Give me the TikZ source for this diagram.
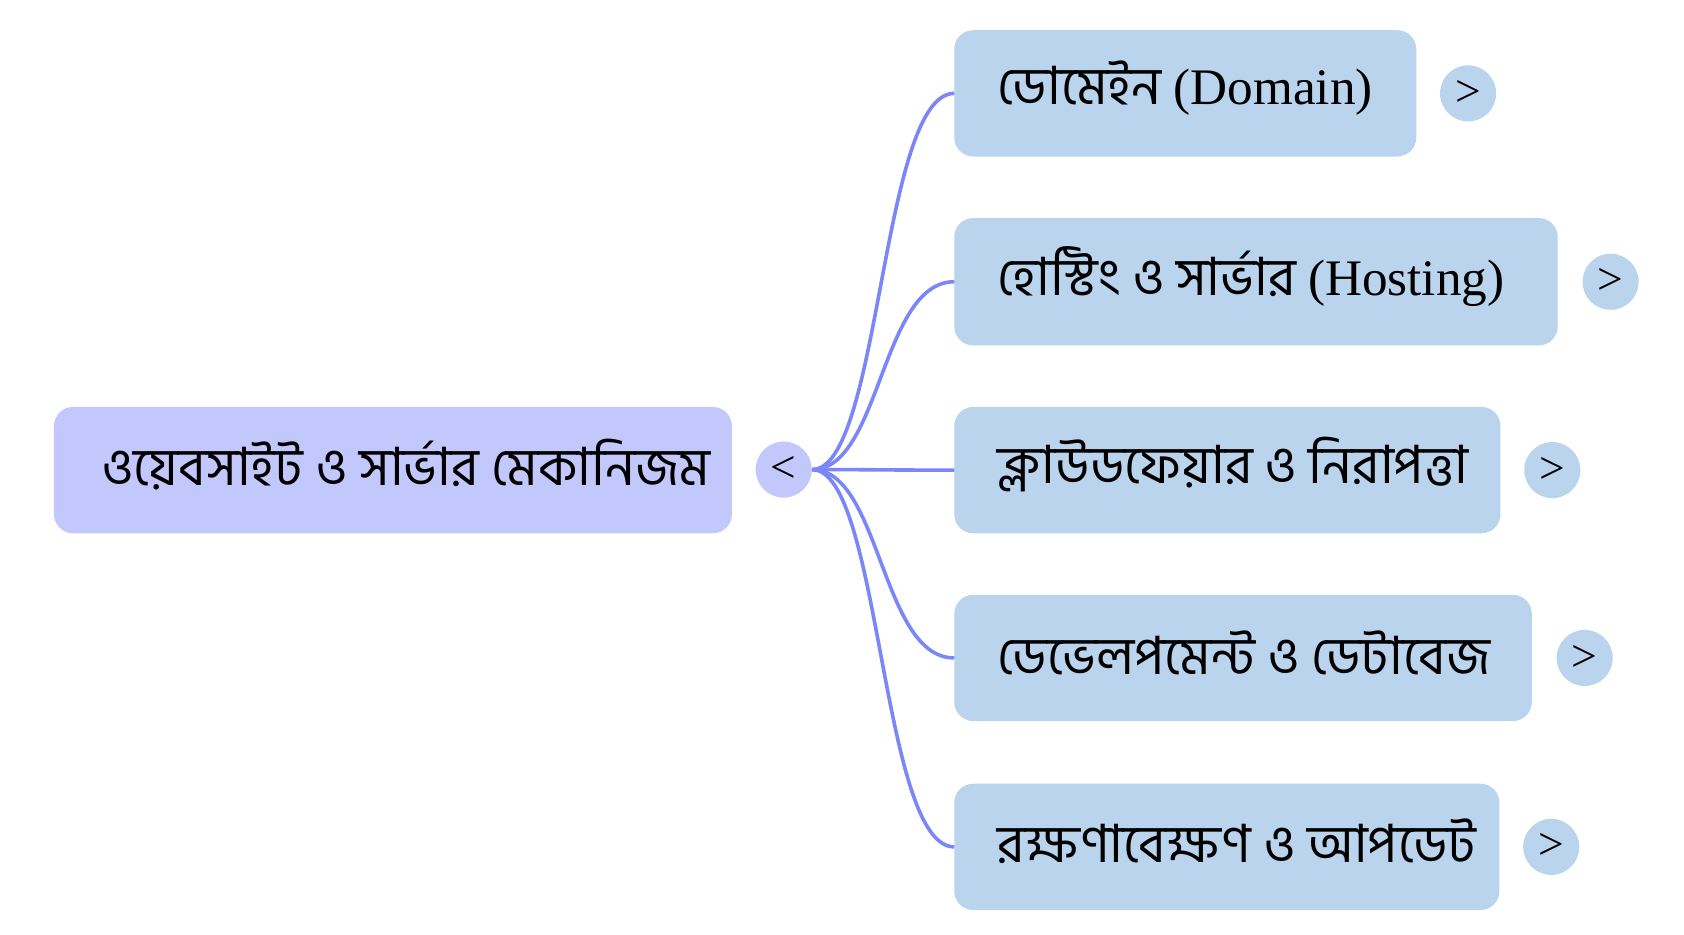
\documentclass[tikz,border=0pt]{standalone}
\usepackage{fontspec}
\setmainfont{Liberation Serif}
\newfontfamily\bn[Script=Bengali,Scale=1.03]{Hind Siliguri}
\definecolor{rootc}{HTML}{C3C8FC}
\definecolor{kidc}{HTML}{BAD4EE}
\definecolor{edgec}{HTML}{7B86F7}
\tikzset{
 boxst/.style={rounded corners=10pt,inner sep=0pt},
 lbl/.style={anchor=west,font=\fontsize{27}{30}\selectfont},
 btn/.style={circle,minimum size=1.04cm,inner sep=0pt,font=\fontsize{24}{26}\selectfont},
 edge/.style={edgec,line width=1.9pt}
}
\begin{document}
\begin{tikzpicture}[x=0.02cm,y=-0.02cm]
\useasboundingbox (0,0) rectangle (1560,866);
\fill[rootc,boxst] (50,377) rectangle (678,494);
\node[lbl] (root) at (88,430) {\bn ওয়েবসাইট ও সার্ভার মেকানিজম};
\node[btn,fill=rootc] (rb) at (726,435) {<};
\foreach \i/\r/\ya/\yb/\cx/\t in {
 1/1312/28/145/1360/{\bn ডোমেইন \rm(Domain)},
 2/1443/202/320/1492/{\bn হোস্টিং ও সার্ভার \rm(Hosting)},
 3/1390/377/494/1438/{\bn ক্লাউডফেয়ার ও নিরাপত্তা},
 4/1419/551/668/1468/{\bn ডেভেলপমেন্ট ও ডেটাবেজ},
 5/1389/726/843/1437/{\bn রক্ষণাবেক্ষণ ও আপডেট}}{
 \fill[kidc,boxst] (884,\ya) rectangle (\r,\yb);
 \coordinate (k\i) at (884,{(\ya+\yb)/2});
 \node[lbl] (t\i) at (918,{(\ya+\yb)/2-5}) {\t};
 \node[btn,fill=kidc] (b\i) at (\cx,{(\ya+\yb)/2}) {>};
 \draw[edge] (rb.east) .. controls (816,435) and (816,{(\ya+\yb)/2}) .. (k\i);
}
\end{tikzpicture}
\end{document}
